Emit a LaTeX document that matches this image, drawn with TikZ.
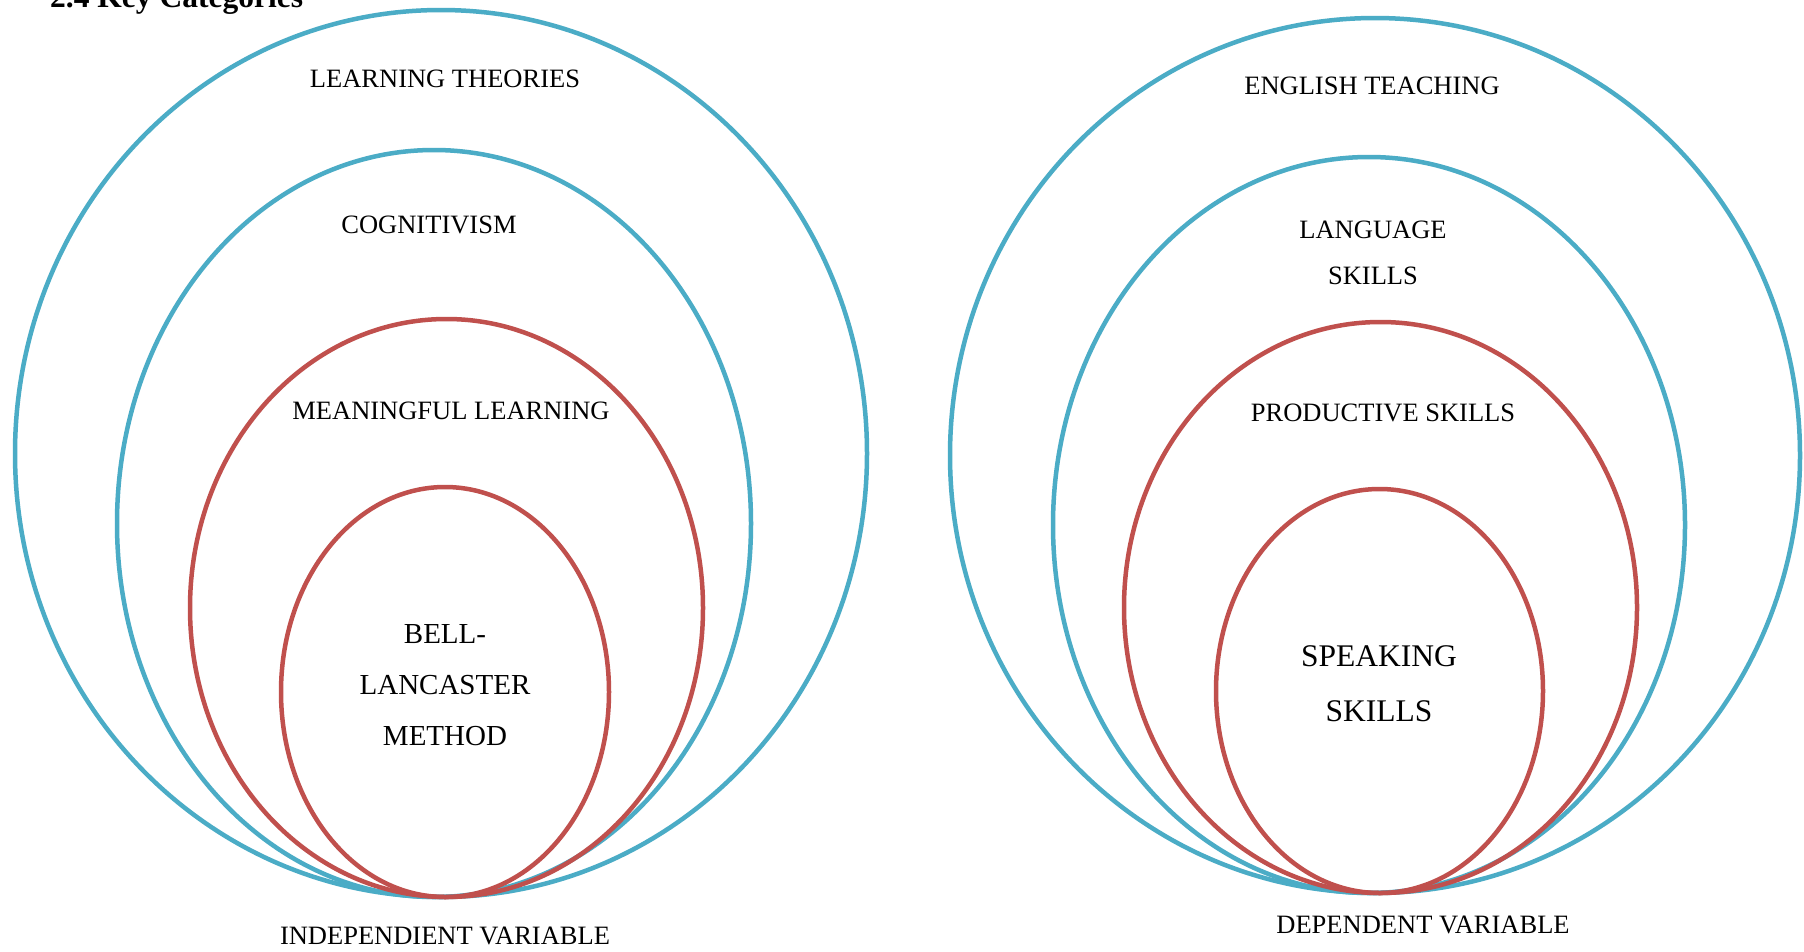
\documentclass[tikz,border=0pt]{standalone}
\usepackage{fontspec}
\setmainfont{Liberation Serif}
\usetikzlibrary{shapes.geometric}
\definecolor{ringblue}{HTML}{4BACC6}
\definecolor{ringred}{HTML}{C0504D}
\begin{document}
\begin{tikzpicture}[x=1pt,y=-1pt,
  ring/.style={ellipse, draw, line width=4.5pt, inner sep=0pt, outer sep=0pt},
  bluering/.style={ring, draw=ringblue},
  redring/.style={ring, draw=ringred},
  lbl/.style={font=\fontsize{26.5}{32}\selectfont, align=center, inner sep=0pt},
  biglbl/.style={font=\fontsize{29}{51}\selectfont, align=center, inner sep=0pt},
  hugelbl/.style={font=\fontsize{31.5}{55}\selectfont, align=center, inner sep=0pt}]
\useasboundingbox (0,0) rectangle (1804,951);
\clip (0,0) rectangle (1804,951);
\fill[white] (0,0) rectangle (1804,951);

% section heading
\node[anchor=base west, inner sep=0pt, font=\fontsize{31.5}{36}\selectfont\bfseries] (head) at (50,7) {2.4 Key Categories};

% independent variable: nested rings
\node[bluering, minimum width=852pt, minimum height=887pt] (lt)   at (441,453.5) {};
\node[bluering, minimum width=634pt, minimum height=747pt] (cog)  at (434,523.5) {};
\node[redring,  minimum width=513pt, minimum height=578pt] (mean) at (446.5,608) {};
\node[redring,  minimum width=328pt, minimum height=410pt] (bell) at (445,692) {};

\node[lbl] (ltlbl)   at (445,79)  {LEARNING THEORIES};
\node[lbl] (coglbl)  at (429,225) {COGNITIVISM};
\node[lbl] (meanlbl) at (451,411) {MEANINGFUL LEARNING};
\node[biglbl] (belllbl) at (445,685) {BELL-\\LANCASTER\\METHOD};
\node[lbl] (indep)   at (445,936) {INDEPENDIENT VARIABLE};

% dependent variable: nested rings
\node[bluering, minimum width=850pt, minimum height=875pt] (et)    at (1375,455.5) {};
\node[bluering, minimum width=632pt, minimum height=736pt] (lang)  at (1369,525) {};
\node[redring,  minimum width=513pt, minimum height=571pt] (prod)  at (1380.5,607.5) {};
\node[redring,  minimum width=327pt, minimum height=404pt] (speak) at (1379.5,691) {};

\node[lbl] (etlbl)   at (1372,86)  {ENGLISH TEACHING};
\node[lbl, font=\fontsize{26.5}{46}\selectfont] (langlbl) at (1373,253) {LANGUAGE\\SKILLS};
\node[lbl] (prodlbl) at (1383,413) {PRODUCTIVE SKILLS};
\node[hugelbl] (speaklbl) at (1379,683.5) {SPEAKING\\SKILLS};
\node[lbl] (dep)     at (1423,925) {DEPENDENT VARIABLE};
\end{tikzpicture}
\end{document}
